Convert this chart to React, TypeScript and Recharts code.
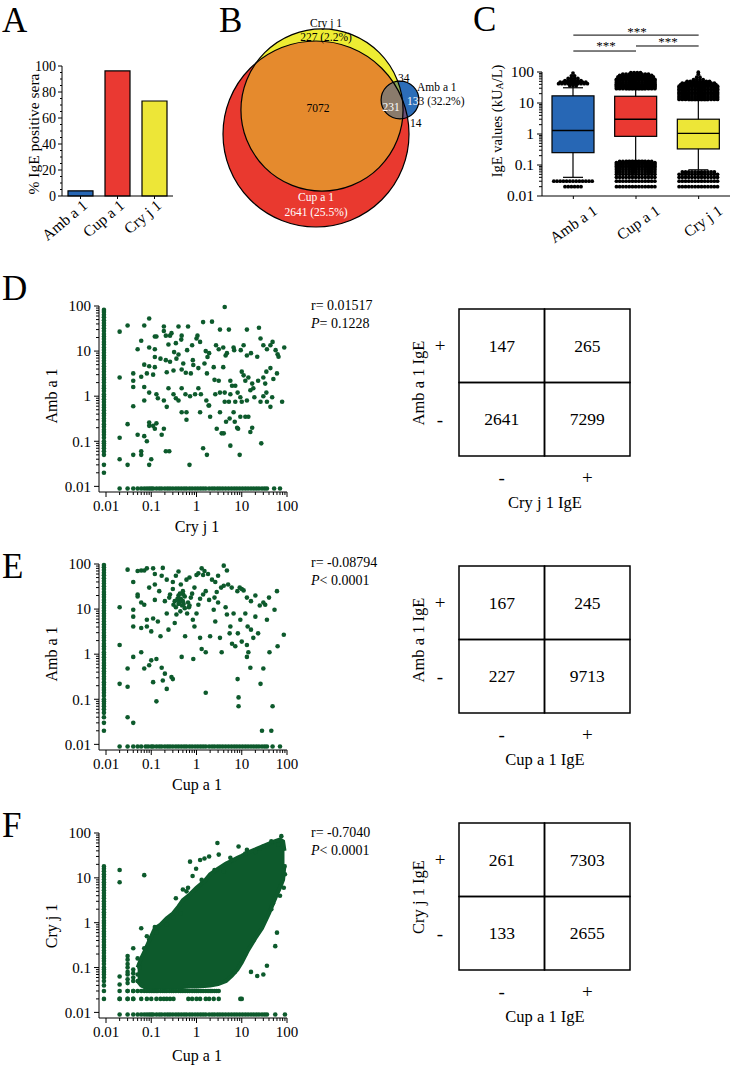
import React from 'react';
import { ComposedChart, Bar, Cell, XAxis, YAxis, Scatter, Area, ReferenceLine } from 'recharts';

const FONT = '"Liberation Serif","Times New Roman",Times,serif';
const INK = '#000';
const GREEN = '#0d5a2c';

// ---------------- Panel A ----------------
const allergens = ['Amb a 1', 'Cup a 1', 'Cry j 1'];
const positivePct = [3.98, 96.19, 73.07];
const allergenColors = ['#2767b5', '#ea3932', '#ede637'];
const pctTicks = [0, 5, 10, 15, 20, 25, 30, 35, 40, 45, 50, 55, 60, 65, 70, 75, 80, 85, 90, 95, 100];

// ---------------- Panel B (Venn) ----------------
const vennRegionNames = ['Cup only', 'Cry only', 'Amb only', 'Cup+Cry', 'Cup+Cry+Amb', 'Cry+Amb', 'Cup+Amb'];
const vennRegionCounts = [2641, 227, 133, 7072, 231, 34, 14];

// ---------------- Panel C (box plots) ----------------
const whiskerLow = [0.04, 0.14, 0.07];
const quart1 = [0.25, 0.84, 0.33];
const medians = [1.3, 3.0, 1.05];
const quart3 = [17, 16.5, 3.0];
const whiskerHigh = [31, 27, 12];
const ambOutliers = [[36, 3], [42, 10], [47, 9], [53, 6], [62, 4], [75, 2], [92, 1], [0.03, 13], [0.02, 6]];
const cupOutliers = [[29, 13], [31, 13], [34, 13], [37, 13], [40, 13], [44, 13], [48, 13], [53, 13], [58, 13], [64, 12], [70, 12], [77, 11], [86, 9], [95, 4],
  [0.13, 11], [0.12, 13], [0.11, 13], [0.1, 13], [0.09, 13], [0.08, 13], [0.07, 13], [0.06, 13], [0.05, 13], [0.04, 13], [0.03, 13], [0.02, 13]];
const cryOutliers = [[13, 13], [14.5, 13], [16, 13], [18, 13], [20, 13], [22, 13], [25, 13], [28, 13], [31, 13], [35, 13], [39, 12], [44, 11], [50, 8], [57, 4], [68, 2], [85, 1], [98, 1],
  [0.06, 11], [0.05, 13], [0.04, 13], [0.03, 13], [0.02, 13]];
const sigLevels = [1550, 475, 690];

// ---------------- Shared log ticks ----------------
const logTicks = [0.01, 0.02, 0.03, 0.04, 0.05, 0.06, 0.07, 0.08, 0.09, 0.1, 0.2, 0.3, 0.4, 0.5, 0.6, 0.7, 0.8, 0.9, 1, 2, 3, 4, 5, 6, 7, 8, 9, 10, 20, 30, 40, 50, 60, 70, 80, 90, 100];
const LOD = 0.009;

// ---------------- Panel D (Cry j 1 vs Amb a 1) ----------------
const dPairs = [
  [0.02, 27], [0.03, 37], [0.07, 37], [0.09, 53], [0.19, 35], [0.19, 28], [0.28, 25], [0.4, 35], [0.65, 35], [1.4, 44], [2.2, 45], [4.2, 95], [3.3, 30], [5.2, 30], [13, 30], [24, 33],
  [0.06, 17], [0.05, 11], [0.09, 12], [0.12, 11], [0.12, 21], [0.13, 21], [0.21, 22], [0.24, 14], [0.26, 22], [0.47, 22], [0.46, 18], [0.35, 15], [0.32, 9.5], [0.4, 8.4], [0.62, 10.5], [0.8, 13.5], [1.0, 19], [1.05, 22], [1.2, 16], [1.6, 10], [1.9, 9], [2.7, 13.5], [3.1, 11], [3.9, 12], [4.4, 8], [4.7, 9], [6.6, 12], [6.8, 10.5], [9.5, 10.5], [11, 13.5], [13, 8], [16, 9], [22, 7.5], [26, 19], [30, 13.5], [36, 11], [43, 13.5], [48, 16], [56, 10.5], [62, 8.5], [87, 12], [65, 7.5],
  [0.02, 2.6], [0.04, 3.2], [0.06, 2.7], [0.08, 3.2], [0.07, 5], [0.09, 4.6], [0.11, 3], [0.12, 4.4], [0.12, 7.4], [0.16, 6.8], [0.21, 6.3], [0.22, 3.4], [0.31, 3.7], [0.26, 5.8], [0.36, 6.8], [0.51, 5.3], [0.47, 3.9], [0.58, 3.3], [0.75, 3.2], [0.83, 6.3], [0.85, 4.9], [1.1, 4.2], [1.5, 5.3], [1.7, 3.2], [1.75, 7.4], [2.4, 4.4], [2.5, 2.3], [3.1, 2.2], [3.9, 4.4], [4.2, 1.2], [5.6, 2.2], [7.2, 1.7], [10, 3.5], [11, 2.9], [12, 2.2], [14, 2.6], [17, 1.9], [18, 1.5], [23, 2.2], [30, 2.6], [33, 1.9], [35, 3.5], [43, 4.2], [50, 2.4], [60, 3.2],
  [0.04, 2.2], [0.04, 1.6], [0.07, 1.6], [0.07, 0.8], [0.09, 1.2], [0.13, 1.1], [0.14, 0.9], [0.19, 0.8], [0.24, 1.5], [0.31, 1.1], [0.35, 0.9], [0.4, 0.8], [0.47, 1.5], [0.57, 1.1], [0.72, 1.0], [0.93, 1.1], [1.1, 1.5], [1.25, 1.1], [1.65, 0.8], [1.85, 0.62], [2.6, 1.1], [3.3, 1.2], [4.2, 0.75], [5.2, 0.75], [5.6, 1.1], [6.1, 1.7], [7.2, 0.75], [8.1, 1.2], [9.3, 0.95], [10, 0.75], [13, 0.8], [15.5, 1.35], [19, 0.95], [26, 0.75], [30, 1.0], [35, 1.2], [36, 0.75], [43, 0.58], [47, 0.95], [78, 0.75],
  [0.02, 0.12], [0.03, 0.24], [0.04, 0.6], [0.05, 0.14], [0.07, 0.13], [0.08, 0.1], [0.09, 0.22], [0.09, 0.26], [0.11, 0.22], [0.12, 0.19], [0.13, 0.25], [0.17, 0.14], [0.19, 0.19], [0.21, 0.06], [0.25, 0.06], [0.22, 0.58], [0.47, 0.44], [0.6, 0.44], [0.6, 0.3], [1.4, 0.07], [1.7, 0.05], [1.2, 0.44], [1.9, 0.62], [2.0, 0.35], [2.8, 0.19], [3.3, 0.44], [3.6, 0.15], [4.0, 0.15], [4.5, 0.27], [5.4, 0.32], [5.6, 0.08], [6.6, 0.44], [7, 0.27], [7.9, 0.2], [8.3, 0.19], [9.3, 0.35], [12, 0.35], [14, 0.35], [15.5, 0.16], [27, 0.09], [9, 0.05], [17, 0.2],
  [0.02, 0.04], [0.03, 0.03], [0.04, 0.05], [0.06, 0.05], [0.06, 0.06], [0.09, 0.03], [0.1, 0.04], [0.7, 0.03],
];
const dLodColumn = [0.02, 0.03, 0.05, 0.06, 0.07, 0.08, 0.09, 0.1, 0.12, 0.14, 0.16, 0.18, 0.21, 0.24, 0.28, 0.32, 0.37, 0.42, 0.49, 0.56, 0.64, 0.74, 0.85, 0.98, 1.1, 1.3, 1.5, 1.7, 2, 2.3, 2.6, 3, 3.5, 4, 4.6, 5.3, 6.1, 7, 8, 9.2, 10.6, 12, 14, 16, 18.5, 21, 24, 28, 32, 37, 42, 48, 56, 64, 74, 82];
const dLodRow = [0.02, 0.03, 0.04, 0.05, 0.06, 0.07, 0.08, 0.09, 0.1, 0.11, 0.13, 0.15, 0.17, 0.2, 0.23, 0.26, 0.3, 0.35, 0.4, 0.46, 0.53, 0.6, 0.7, 0.8, 0.93, 1.07, 1.23, 1.4, 1.6, 1.9, 2.2, 2.5, 2.9, 3.3, 3.8, 4.4, 5.1, 5.9, 6.8, 7.8, 9, 10.4, 12, 13.8, 16, 18.4, 21, 24, 28, 32, 36, 52, 70];

// ---------------- Panel E (Cup a 1 vs Amb a 1) ----------------
const ePairs = [
  [0.02, 11], [0.02, 1.6], [0.02, 0.22], [0.03, 0.48], [0.03, 0.19], [0.03, 0.04], [0.04, 9.7], [0.04, 6.8], [0.04, 4.1], [0.04, 0.87], [0.04, 0.03], [0.05, 21], [0.05, 19], [0.06, 14], [0.06, 3.8], [0.06, 1.1], [0.07, 12.5], [0.07, 0.48], [0.08, 5.8], [0.08, 4.1], [0.09, 0.57], [0.1, 0.73], [0.1, 3.2], [0.11, 6.2], [0.11, 0.24], [0.12, 16], [0.13, 0.78], [0.13, 0.09], [0.14, 5.3], [0.16, 2.5], [0.17, 0.5], [0.18, 0.26], [0.2, 0.37], [0.22, 0.17], [0.22, 8], [0.24, 3.5], [0.26, 21], [0.28, 0.31], [0.3, 0.28], [0.31, 12.5], [0.33, 4.9], [0.36, 7.6], [0.4, 16], [0.44, 8.9], [0.47, 0.87], [0.51, 21], [0.56, 2.5], [0.62, 8], [0.68, 11], [0.75, 18], [0.83, 5.8], [0.85, 0.78], [0.9, 4.1], [1.0, 8], [1.1, 12.5], [1.2, 2.3], [1.3, 1.3], [1.4, 21], [1.6, 1.1], [1.6, 0.14], [1.9, 16], [2.0, 2.5], [2.4, 9.7], [2.6, 5.3], [2.8, 24], [3.3, 2.3], [3.6, 1.1], [4, 33], [4.4, 11], [4.7, 7.6], [5.4, 2.9], [5.6, 4.1], [6.1, 1.7], [6.6, 8], [7.2, 1.5], [8.1, 0.28], [8.2, 2.9], [8.5, 0.11], [8.5, 0.07], [9, 30], [9.3, 5.8], [10, 1.9], [11, 26], [12, 8], [13, 0.87], [13, 1.6], [13.5, 4.1], [14, 1.1], [15.5, 0.5], [16, 3.5], [18, 2.3], [20, 6.8], [23, 2.9], [26, 0.22], [28, 0.02], [30, 0.48], [33, 12.5], [36, 5.8], [41, 1.1], [45, 0.02], [48, 0.07], [53, 9.7], [62, 1.5], [85, 2.7],
  [0.03, 75], [0.05, 70], [0.06, 72], [0.07, 72], [0.08, 80], [0.11, 80], [0.18, 82], [0.12, 60], [0.17, 55], [0.22, 45], [0.3, 40], [0.35, 55], [0.4, 68], [0.45, 35], [0.6, 45], [0.7, 50], [0.9, 30], [1.0, 57], [1.1, 62], [1.4, 57], [1.3, 80], [1.5, 70], [1.8, 60], [2.2, 45], [2.6, 40], [3.0, 55], [3.5, 30], [4, 92], [4.7, 72], [5, 35], [6, 30], [8, 25], [10, 28], [13, 18], [16, 15], [20, 20], [25, 12], [30, 14], [40, 18], [60, 25], [0.04, 40], [0.09, 30], [0.15, 25], [0.25, 18], [0.4, 13], [0.5, 15], [0.55, 19], [0.65, 14], [0.8, 22], [0.4, 20], [0.45, 17], [0.5, 25], [0.3, 28], [0.2, 15], [0.12, 35], [0.7, 12], [1.2, 17], [1.6, 25], [2.5, 18], [3, 14], [0.35, 11], [0.42, 14], [0.48, 12], [0.55, 10.5], [0.38, 17], [0.43, 22], [0.52, 13], [0.33, 15],
];
const eLodColumn = [0.02, 0.03, 0.04, 0.05, 0.06, 0.07, 0.08, 0.09, 0.1, 0.12, 0.14, 0.16, 0.18, 0.21, 0.24, 0.28, 0.32, 0.37, 0.42, 0.49, 0.56, 0.64, 0.74, 0.85, 0.98, 1.1, 1.3, 1.5, 1.7, 2, 2.3, 2.6, 3, 3.5, 4, 4.6, 5.3, 6.1, 7, 8, 9.2, 10.6, 12, 14, 16, 18.5, 21, 24, 28, 32, 37, 42, 48, 56, 64, 74, 85, 95];
const eLodRow = [0.02, 0.03, 0.04, 0.05, 0.06, 0.075, 0.085, 0.1, 0.11, 0.13, 0.15, 0.17, 0.2, 0.23, 0.26, 0.3, 0.35, 0.4, 0.46, 0.53, 0.6, 0.7, 0.8, 0.93, 1.07, 1.23, 1.4, 1.6, 1.9, 2.2, 2.5, 2.9, 3.3, 3.8, 4.4, 5.1, 5.9, 6.8, 7.8, 9, 10.4, 12, 13.8, 16, 18.4, 21, 24, 28, 32, 36, 48, 70];

// ---------------- Panel F (Cup a 1 vs Cry j 1) ----------------
const fCloudCup = [0.05, 0.06, 0.07, 0.08, 0.1, 0.12, 0.16, 0.22, 0.3, 0.4, 0.5, 0.7, 1.0, 1.5, 2.0, 3.0, 4.5, 6, 8, 10, 14, 20, 28, 40, 55, 70, 82, 88];
const fCloudLow = [0.05, 0.04, 0.037, 0.037, 0.037, 0.037, 0.037, 0.037, 0.037, 0.037, 0.037, 0.038, 0.038, 0.039, 0.04, 0.043, 0.05, 0.065, 0.09, 0.13, 0.25, 0.45, 0.75, 1.6, 3.5, 6, 9, 20];
const fCloudHigh = [0.1, 0.16, 0.22, 0.3, 0.5, 0.75, 0.9, 1.25, 1.6, 2.3, 3.2, 4.2, 6, 8.5, 12, 16, 21, 24, 28, 31, 37, 43, 50, 58, 66, 72, 65, 40];
const fPairs = [
  [0.06, 0.75], [0.08, 0.5], [0.09, 0.42], [0.12, 0.8], [0.13, 0.6], [0.22, 0.9], [0.31, 1.3], [0.44, 1.6], [0.5, 5.5], [0.65, 6], [0.72, 23], [0.82, 11], [0.98, 16], [1.2, 25], [1.5, 27], [1.9, 30], [2.9, 60], [3.1, 33], [4, 14], [5.6, 28], [8.5, 50], [13, 42], [20, 38], [30, 50], [45, 65], [75, 85], [0.07, 11.5], [0.07, 0.27], [9.3, 0.02], [36, 0.11], [22, 0.065], [30, 0.07], [16, 0.08], [55, 0.3], [60, 0.6], [85, 6], [90, 12], [88, 18], [49, 2.7], [0.04, 0.27], [0.05, 0.16], [0.055, 0.1], [0.05, 0.07], [0.05, 0.05],
  [0.35, 3.5], [0.6, 5], [1.3, 9], [2.5, 15], [6, 25], [12, 35], [25, 45], [65, 55], [33, 1.2], [45, 2], [70, 4], [12, 0.2], [18, 0.4], [7, 0.08],
];
const fLodColumn = [0.02, 0.03, 0.04, 0.05, 0.06, 0.07, 0.08, 0.09, 0.1, 0.12, 0.14, 0.16, 0.18, 0.21, 0.24, 0.28, 0.32, 0.37, 0.42, 0.49, 0.56, 0.64, 0.74, 0.85, 0.98, 1.1, 1.3, 1.5, 1.7, 2, 2.3, 2.6, 3, 3.5, 4, 4.6, 5.3, 6.1, 7, 8, 9.2, 10.6, 12, 14, 16, 18];
const fLodRow = [0.02, 0.03, 0.04, 0.05, 0.06, 0.07, 0.08, 0.09, 0.1, 0.11, 0.13, 0.15, 0.17, 0.2, 0.23, 0.26, 0.3, 0.35, 0.4, 0.46, 0.53, 0.6, 0.7, 0.8, 0.93, 1.07, 1.23, 1.4, 1.6, 1.9, 2.2, 2.5, 2.9, 3.3, 3.8, 4.4, 5.1, 5.9, 6.8, 7.8, 9, 10.4, 12, 13.8, 16, 18.4, 21, 24, 28, 32, 36, 55, 90];
const fRowAt003 = [0.03, 0.04, 0.05, 0.06, 0.07, 0.08, 0.09, 0.1, 0.11, 0.12, 0.13, 0.14, 0.16, 0.18, 0.2, 0.22, 0.25, 0.28, 0.31, 0.35, 0.4, 0.45, 0.5, 0.56, 0.63, 0.7, 0.8, 0.9, 1.0, 1.1, 1.25, 1.4, 1.6, 1.8, 2.0, 2.2, 2.5, 2.8, 3.1];
const fRowAt002 = [0.02, 0.03, 0.04, 0.06, 0.08, 0.1, 0.13, 0.16, 0.19, 0.22, 0.26, 0.31, 0.66, 0.8, 1.0, 1.2, 1.6, 1.9, 2.4, 3.1, 10];
const fColAt002 = [0.02, 0.03, 0.042, 0.063, 8, 15];
const fColAt003 = [0.02, 0.03, 0.045, 0.055, 0.07, 0.08, 0.1, 0.12, 0.15, 0.18];
const fColAt004 = [0.02, 0.03, 0.05, 0.06, 0.075, 0.09];

// ---------------- Contingency tables ----------------
const tableD = [[147, 265], [2641, 7299]];
const tableE = [[167, 245], [227, 9713]];
const tableF = [[261, 7303], [133, 2655]];

// ---------------- helpers ----------------
const isDecade = (v: number) => Math.abs(Math.log10(v) - Math.round(Math.log10(v))) < 1e-6;
const fmtLog = (v: number) => (v >= 1 ? String(Math.round(v)) : String(v));

const makeYTick = (o: any) => (props: any) => {
  const { x, y, payload } = props;
  const v = payload.value;
  const major = o.isMajor(v);
  return (
    <g>
      <line x1={x} x2={x - (major ? o.major : o.minor)} y1={y} y2={y} stroke={INK} strokeWidth={1} />
      {major && (
        <text x={x - o.major - o.gap} y={y} dy="0.35em" textAnchor="end" fontSize={o.fs} fontFamily={FONT} fill={INK}>
          {o.fmt(v)}
        </text>
      )}
    </g>
  );
};
const makeXTick = (o: any) => (props: any) => {
  const { x, y, payload } = props;
  const v = payload.value;
  const major = o.isMajor(v);
  return (
    <g>
      <line x1={x} x2={x} y1={y} y2={y + (major ? o.major : o.minor)} stroke={INK} strokeWidth={1} />
      {major && (
        <text x={x} y={y + o.base} textAnchor="middle" fontSize={o.fs} fontFamily={FONT} fill={INK}>
          {o.fmt(v)}
        </text>
      )}
    </g>
  );
};
const makeCatTick = (o: any) => (props: any) => {
  const { x, y, payload } = props;
  return (
    <g>
      <line x1={x} x2={x} y1={y} y2={y + o.len} stroke={INK} strokeWidth={1} />
      <text transform={`translate(${x + o.dx},${y + o.dy}) rotate(${o.angle})`} textAnchor="end" fontSize={o.fs} fontFamily={FONT} fill={INK}>
        {payload.value}
      </text>
    </g>
  );
};

const aYTick = makeYTick({ isMajor: (v: number) => v % 20 === 0, major: 4, minor: 2, gap: 2, fs: 14, fmt: (v: number) => String(v) });
const aCatTick = makeCatTick({ len: 3, dx: 8, dy: 11, angle: -40, fs: 15.5 });
const cYTick = makeYTick({ isMajor: isDecade, major: 5, minor: 3, gap: 3, fs: 15.5, fmt: fmtLog });
const cCatTick = makeCatTick({ len: 3, dx: 25, dy: 17, angle: -35, fs: 15.5 });
const sYTick = makeYTick({ isMajor: isDecade, major: 5, minor: 3, gap: 3, fs: 15, fmt: fmtLog });
const sXTick = makeXTick({ isMajor: isDecade, major: 5, minor: 3, base: 19, fs: 15, fmt: fmtLog });

const Dot = (p: any) => <circle cx={p.cx} cy={p.cy} r={2.3} fill={GREEN} />;

// ---------------- Panel A ----------------
const aData = allergens.map((name, i) => ({ name, pct: positivePct[i] }));
function PanelA() {
  return (
    <div style={{ position: 'absolute', left: 0, top: 0 }}>
      <ComposedChart width={190} height={260} data={aData} margin={{ top: 66, right: 17, bottom: 24, left: 22 }}>
        <XAxis dataKey="name" type="category" height={40} tickSize={0} tickMargin={0} tickLine={false} axisLine={{ stroke: INK }} interval={0} tick={aCatTick} />
        <YAxis type="number" domain={[0, 100]} ticks={pctTicks} width={40} tickSize={0} tickMargin={0} tickLine={false} axisLine={{ stroke: INK }} interval={0} tick={aYTick} />
        <Bar dataKey="pct" barSize={25} stroke={INK} strokeWidth={1.2} isAnimationActive={false}>
          {aData.map((d, i) => (
            <Cell key={d.name} fill={allergenColors[i]} />
          ))}
        </Bar>
      </ComposedChart>
    </div>
  );
}

// ---------------- Panel B ----------------
const sum = (idx: number[]) => idx.reduce((s, i) => s + vennRegionCounts[i], 0);
const vennTotals = { cup: sum([0, 3, 4, 6]), cry: sum([1, 3, 4, 5]), amb: sum([2, 4, 5, 6]) };
const VENN_K = 0.932; // px per sqrt(count), area-proportional circles
const vennLayout: any = { cup: [316, 134], cry: [322, 110], amb: [400, 100] };
const vennCircles = (['cup', 'cry', 'amb'] as const).map((id) => ({
  id,
  x: vennLayout[id][0],
  y: vennLayout[id][1],
  r: VENN_K * Math.sqrt((vennTotals as any)[id]),
}));
const VRED = '#e9392f';
const VYEL = '#eeec33';
const VORA = '#e58a2d';
const VBLU = '#2c6db8';
const VTRI = '#8a7b6c';
const VCA = '#8aa656';
const VUA = '#6b4f78';

const VennFill = (p: any) => {
  const { cx, cy, payload } = p;
  const r = payload.r;
  if (payload.id === 'cup')
    return (
      <g>
        <defs>
          <clipPath id="vClipCup"><circle cx={cx} cy={cy} r={r} /></clipPath>
        </defs>
        <circle cx={cx} cy={cy} r={r} fill={VRED} />
      </g>
    );
  if (payload.id === 'cry')
    return (
      <g>
        <defs>
          <clipPath id="vClipCry"><circle cx={cx} cy={cy} r={r} /></clipPath>
        </defs>
        <circle cx={cx} cy={cy} r={r} fill={VYEL} />
        <circle cx={cx} cy={cy} r={r} fill={VORA} clipPath="url(#vClipCup)" />
      </g>
    );
  return (
    <g>
      <circle cx={cx} cy={cy} r={r} fill={VBLU} />
      <circle cx={cx} cy={cy} r={r} fill={VCA} clipPath="url(#vClipCry)" />
      <circle cx={cx} cy={cy} r={r} fill={VUA} clipPath="url(#vClipCup)" />
      <g clipPath="url(#vClipCup)">
        <circle cx={cx} cy={cy} r={r} fill={VTRI} clipPath="url(#vClipCry)" />
      </g>
    </g>
  );
};
const VennLine = (p: any) => <circle cx={p.cx} cy={p.cy} r={p.payload.r} fill="none" stroke={INK} strokeWidth={1.2} />;

function PanelB() {
  return (
    <div style={{ position: 'absolute', left: 180, top: 0 }}>
      <ComposedChart width={270} height={240} margin={{ top: 0, right: 0, bottom: 0, left: 0 }}>
        <XAxis type="number" dataKey="x" domain={[180, 450]} hide />
        <YAxis type="number" dataKey="y" domain={[0, 240]} reversed hide />
        <Scatter data={vennCircles} shape={VennFill} isAnimationActive={false} />
        <Scatter data={vennCircles} shape={VennLine} isAnimationActive={false} />
      </ComposedChart>
    </div>
  );
}

// ---------------- Panel C ----------------
const outlierSets = [ambOutliers, cupOutliers, cryOutliers];
const cData = allergens.map((name, i) => ({
  name,
  range: [whiskerLow[i], whiskerHigh[i]],
  q1: quart1[i],
  med: medians[i],
  q3: quart3[i],
  color: allergenColors[i],
  outliers: outlierSets[i],
}));
const BoxShape = (props: any) => {
  const { x, y, width, height, payload } = props;
  if (x == null || y == null) return null;
  const [lo, hi] = payload.range;
  const L = Math.log10;
  const top = Math.min(y, y + height);
  const bot = Math.max(y, y + height);
  const py = (v: number) => top + ((bot - top) * (L(hi) - L(v))) / (L(hi) - L(lo));
  const cx = x + width / 2;
  const dots: any[] = [];
  payload.outliers.forEach(([v, n]: number[], i: number) => {
    for (let k = 0; k < n; k++) dots.push(<circle key={`${i}-${k}`} cx={cx + (k - (n - 1) / 2) * 3.2} cy={py(v)} r={1.9} fill={INK} />);
  });
  return (
    <g>
      <line x1={cx} x2={cx} y1={py(hi)} y2={py(lo)} stroke={INK} strokeWidth={1.2} />
      <line x1={cx - 10} x2={cx + 10} y1={py(hi)} y2={py(hi)} stroke={INK} strokeWidth={1.2} />
      <line x1={cx - 10} x2={cx + 10} y1={py(lo)} y2={py(lo)} stroke={INK} strokeWidth={1.2} />
      <rect x={x} y={py(payload.q3)} width={width} height={py(payload.q1) - py(payload.q3)} fill={payload.color} stroke={INK} strokeWidth={1.2} />
      <line x1={x} x2={x + width} y1={py(payload.med)} y2={py(payload.med)} stroke={INK} strokeWidth={1.4} />
      {dots}
    </g>
  );
};
function PanelC() {
  return (
    <div style={{ position: 'absolute', left: 450, top: 0 }}>
      <ComposedChart width={283} height={260} data={cData} margin={{ top: 72, right: 3, bottom: 24, left: 42 }}>
        <XAxis dataKey="name" type="category" height={40} tickSize={0} tickMargin={0} tickLine={false} axisLine={{ stroke: INK }} interval={0} tick={cCatTick} />
        <YAxis type="number" scale="log" domain={[0.01, 100]} ticks={logTicks} width={50} tickSize={0} tickMargin={0} tickLine={false} axisLine={{ stroke: INK }} interval={0} tick={cYTick} />
        <Bar dataKey="range" barSize={42} shape={BoxShape} isAnimationActive={false} />
        <ReferenceLine segment={[{ x: allergens[0], y: sigLevels[0] }, { x: allergens[2], y: sigLevels[0] }]} stroke={INK} strokeWidth={1} ifOverflow="visible" />
        <ReferenceLine segment={[{ x: allergens[0], y: sigLevels[1] }, { x: allergens[1], y: sigLevels[1] }]} stroke={INK} strokeWidth={1} ifOverflow="visible" />
        <ReferenceLine segment={[{ x: allergens[1], y: sigLevels[2] }, { x: allergens[2], y: sigLevels[2] }]} stroke={INK} strokeWidth={1} ifOverflow="visible" />
      </ComposedChart>
    </div>
  );
}

// ---------------- Scatter panels ----------------
const toPts = (pairs: number[][]) => pairs.map(([x, y]) => ({ x, y }));
const colPts = (xv: number, ys: number[]) => ys.map((y) => ({ x: xv, y }));
const rowPts = (yv: number, xs: number[]) => xs.map((x) => ({ x, y: yv }));

function LogScatter({ p100, plotH, series, cloud }: any) {
  const height = plotH + 26 + 40;
  return (
    <div style={{ position: 'absolute', left: 0, top: p100 - 26 }}>
      <ComposedChart width={300} height={height} data={cloud || []} margin={{ top: 26, right: 13, bottom: 10, left: 39 }}>
        <XAxis type="number" dataKey="x" scale="log" domain={[0.007, 100]} ticks={logTicks} height={30} tickSize={0} tickMargin={0} tickLine={false} axisLine={{ stroke: INK }} interval={0} tick={sXTick} />
        <YAxis type="number" dataKey="y" scale="log" domain={[0.0075, 100]} ticks={logTicks} width={60} tickSize={0} tickMargin={0} tickLine={false} axisLine={{ stroke: INK }} interval={0} tick={sYTick} />
        {cloud && <Area dataKey="band" type="linear" fill={GREEN} fillOpacity={1} stroke={GREEN} strokeWidth={4} isAnimationActive={false} />}
        {series.map((s: any, i: number) => (
          <Scatter key={i} data={s} shape={Dot} isAnimationActive={false} />
        ))}
      </ComposedChart>
    </div>
  );
}

const dSeries = [toPts(dPairs), colPts(LOD, dLodColumn), rowPts(LOD, dLodRow)];
const eSeries = [toPts(ePairs), colPts(LOD, eLodColumn), rowPts(LOD, eLodRow)];
const fCloud = fCloudCup.map((x, i) => ({ x, band: [fCloudLow[i], fCloudHigh[i]] }));
const fSeries = [
  toPts(fPairs),
  colPts(LOD, fLodColumn),
  rowPts(LOD, fLodRow),
  rowPts(0.03, fRowAt003),
  rowPts(0.02, fRowAt002),
  colPts(0.02, fColAt002),
  colPts(0.03, fColAt003),
  colPts(0.04, fColAt004),
];

// ---------------- Tables ----------------
const CELL_W = 171 / 2;
const CELL_H = 147 / 2;
const TableCell = (p: any) => (
  <g>
    <rect x={p.cx - CELL_W / 2} y={p.cy - CELL_H / 2} width={CELL_W} height={CELL_H} fill="none" stroke={INK} strokeWidth={1.5} />
    <text x={p.cx} y={p.cy} dy="0.35em" textAnchor="middle" fontSize={17.5} fontFamily={FONT} fill={INK}>
      {p.payload.n}
    </text>
  </g>
);
const tYTick = (p: any) => (
  <text x={p.x - 19} y={p.y} dy="0.35em" textAnchor="middle" fontSize={19} fontFamily={FONT} fill={INK}>
    {p.payload.value > 1 ? '+' : '-'}
  </text>
);
const tXTick = (p: any) => (
  <text x={p.x} y={p.y + 28} textAnchor="middle" fontSize={19} fontFamily={FONT} fill={INK}>
    {p.payload.value > 1 ? '+' : '-'}
  </text>
);
function Table({ top, counts }: any) {
  const cells = [
    { x: 0.5, y: 1.5, n: counts[0][0] },
    { x: 1.5, y: 1.5, n: counts[0][1] },
    { x: 0.5, y: 0.5, n: counts[1][0] },
    { x: 1.5, y: 0.5, n: counts[1][1] },
  ];
  return (
    <div style={{ position: 'absolute', left: 400, top: top - 19 }}>
      <ComposedChart width={240} height={220} margin={{ top: 19, right: 10, bottom: 24, left: 29 }}>
        <XAxis type="number" dataKey="x" domain={[0, 2]} ticks={[0.5, 1.5]} height={30} tickSize={0} tickMargin={0} tickLine={false} axisLine={false} interval={0} tick={tXTick} />
        <YAxis type="number" dataKey="y" domain={[0, 2]} ticks={[0.5, 1.5]} width={30} tickSize={0} tickMargin={0} tickLine={false} axisLine={false} interval={0} tick={tYTick} />
        <Scatter data={cells} shape={TableCell} isAnimationActive={false} />
      </ComposedChart>
    </div>
  );
}

// ---------------- Overlay text ----------------
const T = (props: any) => <text fontFamily={FONT} fill={INK} {...props} />;
const VT = ({ x, y, fs, children }: any) => (
  <text transform={`translate(${x},${y}) rotate(-90)`} textAnchor="middle" dominantBaseline="central" fontFamily={FONT} fontSize={fs} fill={INK}>
    {children}
  </text>
);
function Overlay() {
  const letters: [string, number, number][] = [['A', 2, 32], ['B', 219, 32], ['C', 473, 31], ['D', 2, 300], ['E', 2, 578], ['F', 2, 837]];
  return (
    <svg width={733} height={1065} style={{ position: 'absolute', left: 0, top: 0, pointerEvents: 'none' }}>
      {letters.map(([l, x, y]) => (
        <T key={l} x={x} y={y} fontSize={35}>{l}</T>
      ))}
      <VT x={33} y={134} fs={15.5}>% IgE positive sera</VT>
      <text transform="translate(497,121) rotate(-90)" textAnchor="middle" dominantBaseline="central" fontFamily={FONT} fontSize={14.5} fill={INK}>
        IgE values (kU<tspan fontSize={10} dy={2}>A</tspan><tspan dy={-2}>/L)</tspan>
      </text>
      <T x={637} y={36} fontSize={13} textAnchor="middle">***</T>
      <T x={606} y={50} fontSize={13} textAnchor="middle">***</T>
      <T x={668} y={46} fontSize={13} textAnchor="middle">***</T>

      <T x={326} y={27} fontSize={11.5} textAnchor="middle">Cry j 1</T>
      <T x={326} y={41} fontSize={11.5} textAnchor="middle">{vennRegionCounts[1]} (2.2%)</T>
      <T x={318} y={112} fontSize={11.5} textAnchor="middle">{vennRegionCounts[3]}</T>
      <T x={391} y={111} fontSize={11.5} textAnchor="middle" fill="#fff">{vennRegionCounts[4]}</T>
      <T x={398} y={82} fontSize={11.5}>{vennRegionCounts[5]}</T>
      <T x={417} y={91} fontSize={11.5}>Amb a 1</T>
      <text x={407} y={105} fontSize={11.5} fontFamily={FONT}>
        <tspan fill="#fff">13</tspan><tspan fill={INK}>3 (32.2%)</tspan>
      </text>
      <T x={410} y={127} fontSize={11.5}>{vennRegionCounts[6]}</T>
      <T x={316} y={201} fontSize={11.5} textAnchor="middle" fill="#fff">Cup a 1</T>
      <T x={316} y={216} fontSize={11.5} textAnchor="middle" fill="#fff">{vennRegionCounts[0]} (25.5%)</T>

      <VT x={51} y={396} fs={16}>Amb a 1</VT>
      <T x={197} y={532} fontSize={16} textAnchor="middle">Cry j 1</T>
      <T x={311} y={310} fontSize={14}>r= 0.01517</T>
      <T x={311} y={328} fontSize={14}><tspan fontStyle="italic">P</tspan>= 0.1228</T>

      <VT x={51} y={654} fs={16}>Amb a 1</VT>
      <T x={197} y={790} fontSize={16} textAnchor="middle">Cup a 1</T>
      <T x={311} y={567} fontSize={14}>r= -0.08794</T>
      <T x={311} y={585} fontSize={14}><tspan fontStyle="italic">P</tspan>{'< 0.0001'}</T>

      <VT x={51} y={926} fs={16}>Cry j 1</VT>
      <T x={197} y={1061} fontSize={16} textAnchor="middle">Cup a 1</T>
      <T x={311} y={837} fontSize={14}>r= -0.7040</T>
      <T x={311} y={855} fontSize={14}><tspan fontStyle="italic">P</tspan>{'< 0.0001'}</T>

      <VT x={418} y={383} fs={16.5}>Amb a 1 IgE</VT>
      <T x={545} y={508} fontSize={16.5} textAnchor="middle">Cry j 1 IgE</T>
      <VT x={418} y={640} fs={16.5}>Amb a 1 IgE</VT>
      <T x={545} y={765} fontSize={16.5} textAnchor="middle">Cup a 1 IgE</T>
      <VT x={418} y={897} fs={16.5}>Cry j 1 IgE</VT>
      <T x={545} y={1022} fontSize={16.5} textAnchor="middle">Cup a 1 IgE</T>
    </svg>
  );
}

export default function App() {
  return (
    <div style={{ position: 'absolute', left: 0, top: 0, width: 733, height: 1065, background: '#fff', overflow: 'hidden' }}>
      <PanelA />
      <PanelB />
      <PanelC />
      <LogScatter p100={306} plotH={186} series={dSeries} />
      <LogScatter p100={564} plotH={186} series={eSeries} />
      <LogScatter p100={833} plotH={185} series={fSeries} cloud={fCloud} />
      <Table top={309} counts={tableD} />
      <Table top={566} counts={tableE} />
      <Table top={823} counts={tableF} />
      <Overlay />
    </div>
  );
}
